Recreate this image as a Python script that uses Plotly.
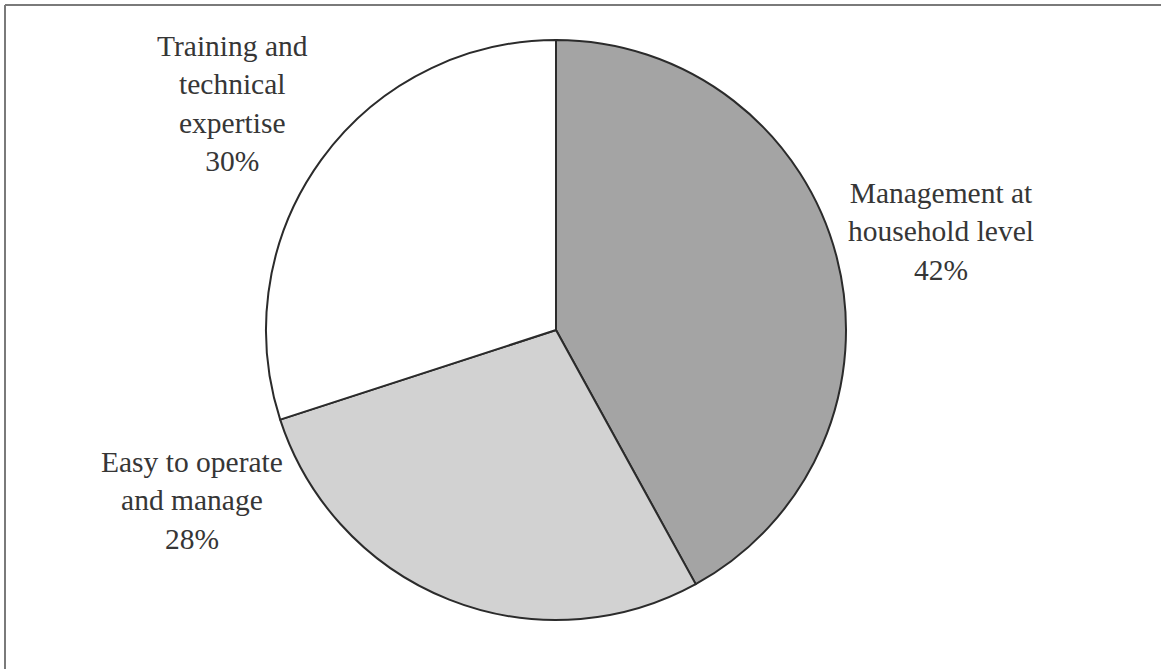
import plotly.graph_objects as go

# Reasons given, share of responses (%)
labels = ["Management at<br>household level", "Easy to operate<br>and manage", "Training and<br>technical<br>expertise"]
values = [42, 28, 30]
colors = ["#a4a4a4", "#d2d2d2", "#ffffff"]

W, H = 1161, 669

# pie geometry in pixels
cx, cy, r = 556, 330, 290

fig = go.Figure(go.Pie(
    labels=labels,
    values=values,
    sort=False,
    direction="clockwise",
    rotation=0,
    textinfo="none",
    hoverinfo="label+percent",
    marker=dict(colors=colors, line=dict(color="#2b2b2b", width=2)),
    domain=dict(x=[(cx - r) / W, (cx + r) / W], y=[1 - (cy + r) / H, 1 - (cy - r) / H]),
    showlegend=False,
))

# label text with percentages, placed beside each slice
label_pos = [(941, 232), (192, 500), (232, 104)]
annotations = []
for lab, val, (px, py) in zip(labels, values, label_pos):
    annotations.append(dict(
        text=f"{lab}<br>{val}%",
        x=px / W, y=1 - py / H, xref="paper", yref="paper",
        xanchor="center", yanchor="middle", showarrow=False, align="center",
        font=dict(family="Liberation Serif", size=29.5, color="#363636"),
    ))

# frame lines along top and left edges
shapes = [
    dict(type="line", xref="paper", yref="paper", x0=5 / W, x1=1, y0=1 - 5 / H, y1=1 - 5 / H,
         line=dict(color="#7a7a7a", width=2)),
    dict(type="line", xref="paper", yref="paper", x0=5 / W, x1=5 / W, y0=0, y1=1 - 5 / H,
         line=dict(color="#7a7a7a", width=2)),
]

fig.update_layout(
    width=W, height=H,
    margin=dict(l=0, r=0, t=0, b=0),
    paper_bgcolor="#ffffff",
    plot_bgcolor="#ffffff",
    annotations=annotations,
    shapes=shapes,
)

fig.write_html("out.html")
